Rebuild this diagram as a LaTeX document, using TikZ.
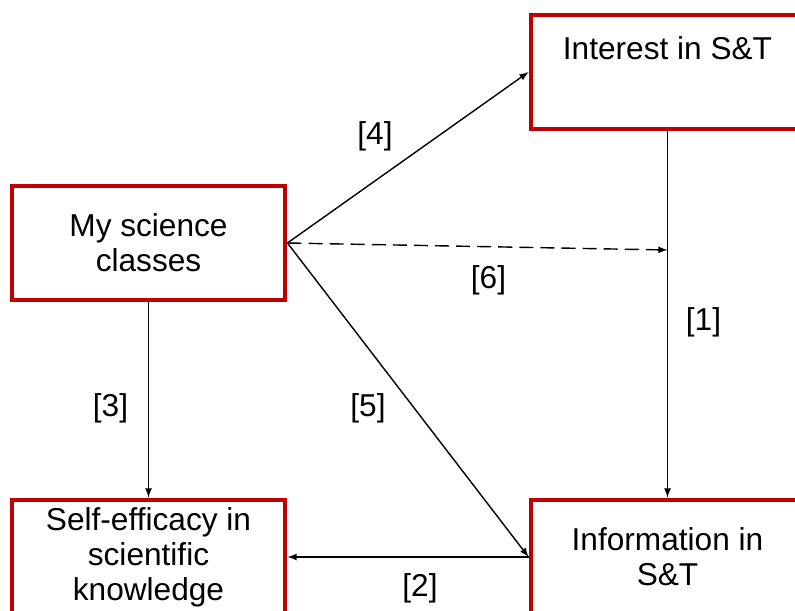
\documentclass[tikz,border=0pt]{standalone}
\usepackage{fontspec}
\setmainfont{Liberation Sans}
\definecolor{boxred}{RGB}{192,0,0}
\tikzstyle{red box} = [draw=boxred, line width=2.8pt, minimum width=5.46cm, minimum height=2.28cm, inner sep=0, align=center]
\tikzstyle{link}    = [-latex, line width=0.8pt]

\begin{document}
\begin{tikzpicture}[x=0.02cm, y=-0.02cm, font=\fontsize{18}{20}\selectfont]
    \clip (0,0) rectangle (795,611);

    % Boxes (right and bottom ones run off the page)
    \node(classes)[red box] at (148.5,243) {My science\\classes};
    \node(interest)[red box, text height=0.9cm, text depth=1.38cm] at (667.5,72) {Interest in S\&T};
    \node(selfeff)[red box] at (148.5,557) {Self-efficacy in\\scientific\\knowledge};
    \node(info)[red box] at (667.5,557) {Information in\\S\&T};

    % Point where the dashed arrow meets [1]
    \coordinate(join) at (interest.south |- 0,250);

    % Paths
    \draw[link] (interest.south) -- node[xshift=0.72cm, yshift=-0.15cm]{[1]} (info.north);
    \draw[link] (info.west) -- node[xshift=0.24cm, yshift=-0.62cm]{[2]} (selfeff.east);
    \draw[link] (classes.south) -- node[xshift=-0.76cm, yshift=-0.16cm]{[3]} (selfeff.north);
    \draw[link] (classes.east) -- node[xshift=-0.66cm, yshift=0.42cm]{[4]} (interest.west);
    \draw[link] (classes.east) -- node[xshift=-0.8cm, yshift=-0.16cm]{[5]} (info.west);
    \draw[link, dash pattern=on 8pt off 4pt] (classes.east) -- node[xshift=0.22cm, yshift=-0.68cm]{[6]} (join);

\end{tikzpicture}
\end{document}
